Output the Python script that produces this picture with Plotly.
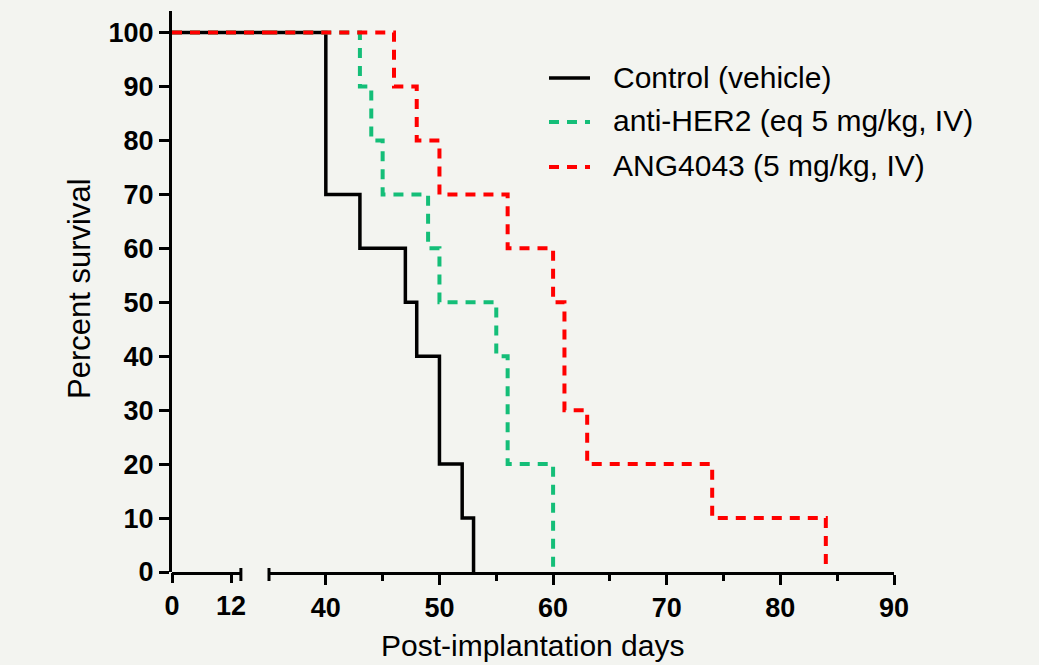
import plotly.graph_objects as go

# Kaplan-Meier survival data (days, percent survival)
ctrl_days = [0, 40, 43, 47, 48, 50, 52, 53]
ctrl_surv = [100, 70, 60, 50, 40, 20, 10, 0]

her2_days = [0, 43, 44, 45, 49, 50, 55, 56, 60]
her2_surv = [100, 90, 80, 70, 60, 50, 40, 20, 0]

ang_days = [0, 46, 48, 50, 56, 60, 61, 63, 74, 84]
ang_surv = [100, 90, 80, 70, 60, 50, 30, 20, 10, 0]

names = ["Control (vehicle)", "anti-HER2 (eq 5 mg/kg, IV)", "ANG4043 (5 mg/kg, IV)"]
colors = ["#000000", "#14be78", "#ff0000"]
dashes = ["solid", "10px,8px", "10px,8px"]
widths = [3.5, 4, 4]

left_ticks = [0, 12]
right_ticks = [40, 50, 60, 70, 80, 90]
right_minor = [45, 55, 65, 75, 85]
y_ticks = [0, 10, 20, 30, 40, 50, 60, 70, 80, 90, 100]

series = [(ctrl_days, ctrl_surv), (her2_days, her2_surv), (ang_days, ang_surv)]

BG = "#f3f4f0"
FONT = "Arial, Liberation Sans, sans-serif"

fig = go.Figure()
# left segment (0-14) of the broken axis
for (d, s), n, c, ds, w in zip(series, names, colors, dashes, widths):
    fig.add_trace(go.Scatter(x=d, y=s, mode="lines", name=n,
                             line=dict(shape="hv", color=c, dash=ds, width=w),
                             xaxis="x", yaxis="y", showlegend=False, hoverinfo="skip"))
# right segment (35-90)
for (d, s), n, c, ds, w in zip(series, names, colors, dashes, widths):
    fig.add_trace(go.Scatter(x=d, y=s, mode="lines", name=n,
                             line=dict(shape="hv", color=c, dash=ds, width=w),
                             xaxis="x2", yaxis="y", showlegend=False))

L, R, T, B = 172, 145, 11, 93
W, H = 1039, 665
pw = W - L - R
ph = H - T - B
split = (269 - L) / pw
left_range_max = (269 - L) / 4.92

def px_x(p):
    return (p - L) / pw

def px_y(p):
    return (H - B - p) / ph

tickfont = dict(family=FONT, size=27, color="black", weight="bold")

fig.update_layout(
    width=W, height=H,
    margin=dict(l=L, r=R, t=T, b=B, pad=0),
    paper_bgcolor=BG, plot_bgcolor=BG,
    font=dict(family=FONT, color="black"),
    showlegend=False,
    xaxis=dict(domain=[0, split], range=[0, left_range_max], anchor="y",
               tickmode="array", tickvals=left_ticks, ticktext=[str(t) for t in left_ticks],
               ticks="outside", ticklen=10, tickwidth=3, tickcolor="black",
               showline=False, showgrid=False, zeroline=False, tickfont=tickfont),
    xaxis2=dict(domain=[split, 1], range=[35, 90], anchor="y",
                tickmode="array", tickvals=right_ticks,
                ticks="outside", ticklen=10, tickwidth=3, tickcolor="black",
                minor=dict(tickmode="array", tickvals=right_minor, ticks="outside",
                           ticklen=6, tickwidth=3, tickcolor="black", showgrid=False),
                showline=True, linewidth=3, linecolor="black",
                showgrid=False, zeroline=False, tickfont=tickfont),
    yaxis=dict(range=[0, 104], anchor="x", tickmode="array", tickvals=y_ticks,
               ticks="outside", ticklen=10, tickwidth=3, tickcolor="black",
               showline=True, linewidth=3, linecolor="black",
               showgrid=False, zeroline=False, tickfont=tickfont),
)

# axis line for the left segment and the break caps
fig.add_shape(type="line", xref="x", yref="paper", x0=0, x1=14, ysizemode="pixel", yanchor=0,
              y0=-1.5, y1=-1.5, line=dict(color="black", width=3), layer="above")
fig.add_shape(type="line", xref="x", yref="paper", x0=14, x1=14, ysizemode="pixel", yanchor=0,
              y0=-9, y1=4, line=dict(color="black", width=3), layer="above")
fig.add_shape(type="line", xref="paper", yref="paper", x0=split, x1=split, ysizemode="pixel", yanchor=0,
              y0=-9, y1=4, line=dict(color="black", width=3), layer="above")

# legend (drawn in the upper right, as in the reference)
leg_y = [78, 122, 167]
for n, c, ds, w, yy in zip(names, colors, dashes, widths, leg_y):
    fig.add_shape(type="line", xref="paper", yref="paper", x0=px_x(549), x1=px_x(590),
                  y0=px_y(yy), y1=px_y(yy), line=dict(color=c, dash=ds, width=w))
    fig.add_annotation(text=n, xref="paper", yref="paper", x=px_x(611), y=px_y(yy - 1),
                       xanchor="left", yanchor="middle", showarrow=False,
                       font=dict(family=FONT, size=30, color="black"))

fig.add_annotation(text="Post-implantation days", xref="paper", yref="paper",
                   x=0.5, y=px_y(645), xanchor="center", yanchor="middle",
                   showarrow=False, font=dict(family=FONT, size=30, color="black"))
fig.add_annotation(text="Percent survival", xref="paper", yref="paper",
                   x=px_x(80), y=px_y(289), xanchor="center", yanchor="middle",
                   textangle=-90, showarrow=False, font=dict(family=FONT, size=31, color="black"))

fig.write_html("out.html",
               config={"displayModeBar": False},
               post_script="document.body.style.margin='0';document.body.style.background='%s';"
                           "document.documentElement.style.overflow='hidden';" % BG)
